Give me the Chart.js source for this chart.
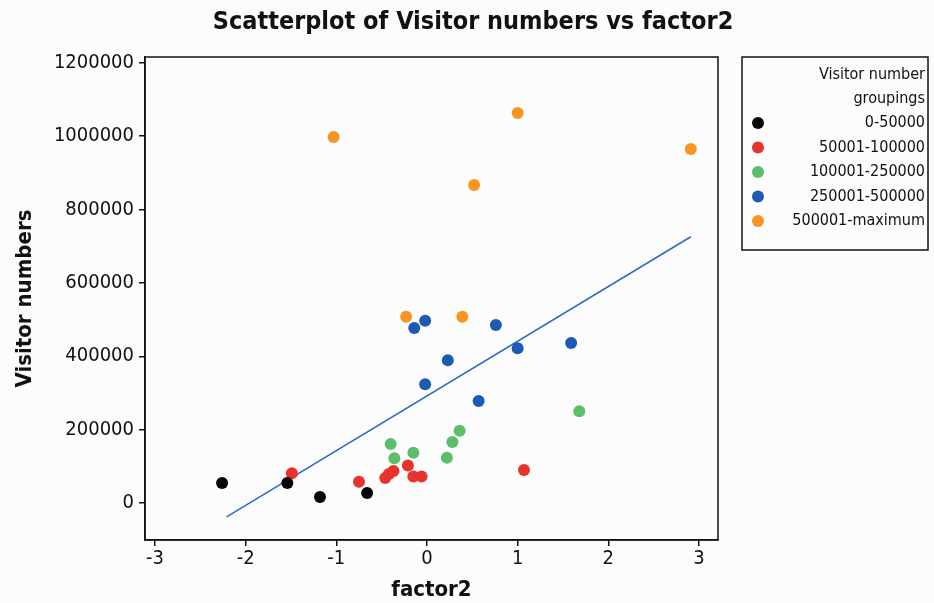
<!DOCTYPE html>
<html>
<head>
<meta charset="utf-8">
<script src="https://cdn.jsdelivr.net/npm/chart.js@4.4.0/dist/chart.umd.min.js"></script>
<style>
    html, body { margin:0; padding:0; background:#fcfcfd; }
    #box { position:relative; width:934px; height:603px; }
</style>
</head>
<body>
<div id="box"><canvas id="scatter" width="934" height="603"></canvas></div>
<script>
// DATA
var groupLabels = ['0-50000', '50001-100000', '100001-250000', '250001-500000', '500001-maximum'];
var groupColors = ['#050505', '#e8322b', '#5cbd6b', '#1d5ab4', '#f7951f'];

var blackX  = [-2.26, -1.54, -1.18, -0.66];
var blackY  = [54600, 54600, 16400, 27000];
var redX    = [-1.49, -0.75, -0.46, -0.42, -0.37, -0.21, -0.15, -0.06, 1.07];
var redY    = [81000, 58000, 68000, 79000, 87000, 102000, 72000, 72000, 90000];
var greenX  = [-0.40, -0.36, -0.15, 0.22, 0.28, 0.36, 1.68];
var greenY  = [161000, 122000, 137000, 123000, 166000, 197000, 250000];
var blueX   = [-0.14, -0.02, -0.02, 0.23, 0.57, 0.76, 1.00, 1.59];
var blueY   = [477000, 497000, 324000, 389000, 278000, 485000, 422000, 436000];
var orangeX = [-1.03, -0.23, 0.39, 0.52, 1.00, 2.91];
var orangeY = [998000, 508000, 508000, 867000, 1063000, 965000];
var fitX    = [-2.21, 2.91];
var fitY    = [-38000, 726000];

var xTicks = [-3, -2, -1, 0, 1, 2, 3];
var yTicks = [0, 200000, 400000, 600000, 800000, 1000000, 1200000];
// DATA

var FONT = '"DejaVu Sans Condensed", "DejaVu Sans", sans-serif';

function pairs(xs, ys){
    var out = [];
    for (var i = 0; i < xs.length; i++) out.push({x: xs[i], y: ys[i]});
    return out;
}

// FRAME, TITLE AND LEGEND
var extras = {
    id: 'extras',
    afterDraw: function(chart){
        var ctx = chart.ctx, a = chart.chartArea;
        ctx.save();
        ctx.strokeStyle = '#111';
        ctx.lineWidth = 1.5;
        ctx.strokeRect(a.left, a.top, a.right - a.left, a.bottom - a.top);

        ctx.fillStyle = '#111';
        ctx.font = 'bold 25px ' + FONT;
        ctx.textAlign = 'center';
        ctx.textBaseline = 'middle';
        ctx.fillText('Scatterplot of Visitor numbers vs factor2', 473, 22);

        // legend
        ctx.strokeRect(742, 57, 186, 193);
        ctx.font = '16px ' + FONT;
        ctx.textAlign = 'right';
        ctx.fillText('Visitor number', 925, 75);
        ctx.fillText('groupings', 925, 99);
        for (var i = 0; i < groupLabels.length; i++) {
            var y = 123 + i * 24.5;
            ctx.fillStyle = groupColors[i];
            ctx.beginPath();
            ctx.arc(758, y, 6, 0, Math.PI * 2);
            ctx.fill();
            ctx.fillStyle = '#111';
            ctx.fillText(groupLabels[i], 925, y);
        }
        ctx.restore();
    }
};

function drawChart(){
    var sets = [];
    var xs = [blackX, redX, greenX, blueX, orangeX];
    var ys = [blackY, redY, greenY, blueY, orangeY];
    for (var i = 0; i < xs.length; i++) {
        sets.push({
            type: 'scatter',
            label: groupLabels[i],
            data: pairs(xs[i], ys[i]),
            backgroundColor: groupColors[i],
            borderWidth: 0,
            pointRadius: 6
        });
    }
    sets.push({
        type: 'line',
        label: 'fit',
        data: pairs(fitX, fitY),
        borderColor: '#2a6cc3',
        borderWidth: 1.6,
        pointRadius: 0,
        fill: false
    });

    new Chart(document.getElementById('scatter').getContext('2d'), {
        type: 'scatter',
        data: { datasets: sets },
        options: {
            responsive: false,
            animation: false,
            layout: { padding: { left: 8, right: 216, top: 57, bottom: 0 } },
            plugins: { legend: { display: false }, tooltip: { enabled: false } },
            scales: {
                x: {
                    type: 'linear',
                    min: -3.11, max: 3.21,
                    afterFit: function(s){ s.height = 63; },
                    afterBuildTicks: function(s){ s.ticks = xTicks.map(function(v){ return {value: v}; }); },
                    grid: { drawOnChartArea: false, color: '#111', lineWidth: 1.5, tickLength: 6 },
                    border: { color: '#111', width: 1.5 },
                    ticks: { color: '#111', padding: 1, font: { family: FONT, size: 20 } },
                    title: { display: true, text: 'factor2', color: '#111', padding: 0,
                             font: { family: FONT, size: 22, weight: 'bold' } }
                },
                y: {
                    min: -101000, max: 1216000,
                    afterFit: function(s){ s.width = 137; },
                    afterBuildTicks: function(s){ s.ticks = yTicks.map(function(v){ return {value: v}; }); },
                    grid: { drawOnChartArea: false, color: '#111', lineWidth: 1.5, tickLength: 6 },
                    border: { color: '#111', width: 1.5 },
                    ticks: { color: '#111', padding: 5, font: { family: FONT, size: 20 },
                             callback: function(v){ return String(v); } },
                    title: { display: true, text: 'Visitor numbers', color: '#111', padding: 4,
                             font: { family: FONT, size: 22, weight: 'bold' } }
                }
            }
        },
        plugins: [extras]
    });
}

drawChart();
</script>
</body>
</html>
